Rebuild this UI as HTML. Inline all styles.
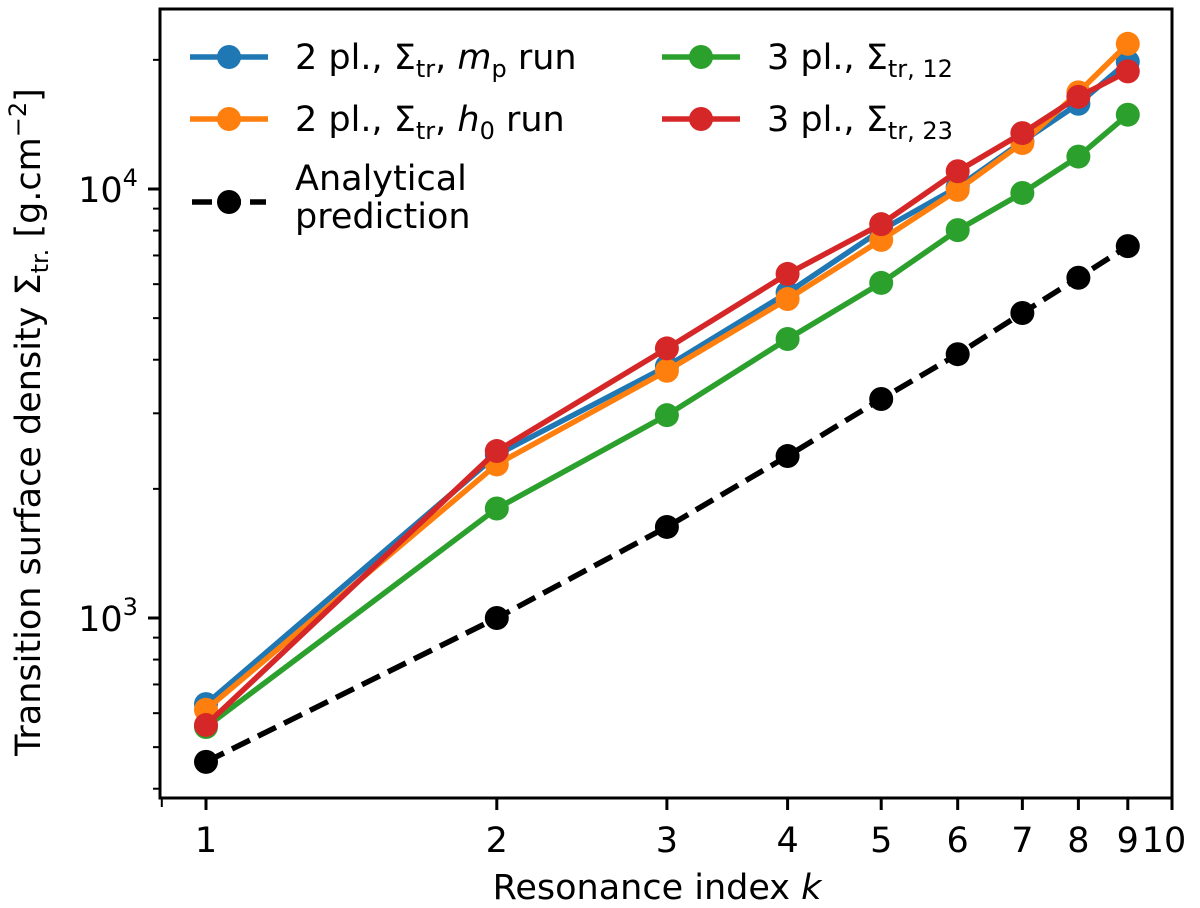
<!DOCTYPE html>
<html><head><meta charset="utf-8"><style>
body{margin:0;background:#fff}
svg{display:block;font-family:"DejaVu Sans","Liberation Sans",sans-serif}
</style></head><body>
<svg id="chart" width="1200" height="908" viewBox="0 0 1200 908">
<g id="marks"></g>
<rect x="160" y="9" width="1012" height="789" fill="none" stroke="#000" stroke-width="3"/>
<g id="ticks"></g>
<text x="657" y="899" font-size="35" text-anchor="middle">Resonance index <tspan font-style="italic">k</tspan></text>
<text transform="translate(40,422) rotate(-90)" font-size="35" text-anchor="middle">Transition surface density Σ<tspan font-size="24" dy="8">tr.</tspan><tspan dy="-8">  [g.cm</tspan><tspan font-size="24" dy="-14">−2</tspan><tspan dy="14">]</tspan></text>
<g id="legend">
 <g><line x1="190" y1="57" x2="268" y2="57" stroke="#1f77b4" stroke-width="5.5"/><circle cx="229" cy="57" r="12" fill="#1f77b4"/><text x="295" y="69" font-size="35">2 pl., Σ<tspan font-size="24" dy="8">tr</tspan><tspan dy="-8">, </tspan><tspan font-style="italic">m</tspan><tspan font-size="24" dy="8">p</tspan><tspan dy="-8"> run</tspan></text></g>
 <g><line x1="190" y1="119" x2="268" y2="119" stroke="#ff7f0e" stroke-width="5.5"/><circle cx="229" cy="119" r="12" fill="#ff7f0e"/><text x="295" y="131" font-size="35">2 pl., Σ<tspan font-size="24" dy="8">tr</tspan><tspan dy="-8">, </tspan><tspan font-style="italic">h</tspan><tspan font-size="24" dy="8">0</tspan><tspan dy="-8"> run</tspan></text></g>
 <g><line x1="192" y1="202" x2="266" y2="202" stroke="#000" stroke-width="5.5" stroke-dasharray="20,9"/><circle cx="229" cy="202" r="12" fill="#000"/><text x="295" y="190" font-size="35">Analytical</text><text x="295" y="228" font-size="35">prediction</text></g>
 <g><line x1="662" y1="57" x2="740" y2="57" stroke="#2ca02c" stroke-width="5.5"/><circle cx="701" cy="57" r="12" fill="#2ca02c"/><text x="767" y="69" font-size="35">3 pl., Σ<tspan font-size="24" dy="8">tr, 12</tspan></text></g>
 <g><line x1="662" y1="119" x2="740" y2="119" stroke="#d62728" stroke-width="5.5"/><circle cx="701" cy="119" r="12" fill="#d62728"/><text x="767" y="131" font-size="35">3 pl., Σ<tspan font-size="24" dy="8">tr, 23</tspan></text></g>
</g>
</svg>
<script>
const ks=[1,2,3,4,5,6,7,8,9];
const blueVals=[630,2400,3860,5730,8020,10100,12900,15800,19800];
const orangeVals=[611,2280,3770,5540,7610,9950,12800,16800,21800];
const greenVals=[557,1800,2970,4470,6040,8020,9790,11900,14900];
const redVals=[563,2450,4250,6340,8280,11000,13500,16400,18800];
const analyticVals=[462,1000,1630,2385,3240,4120,5140,6210,7360];
const xTicks=[1,2,3,4,5,6,7,8,9,10];
const xTickLabels=["1","2","3","4","5","6","7","8","9","10"];
const NS="http://www.w3.org/2000/svg";
function X(v){return 206+966*Math.log10(v);}
function Y(v){return 618-429*(Math.log10(v)-3);}
const marks=document.getElementById('marks');
function series(vals,color,name,dash){
 const g=document.createElementNS(NS,'g');
 
 
 const pl=document.createElementNS(NS,'polyline');
 pl.setAttribute('points',ks.map((k,i)=>X(k)+','+Y(vals[i])).join(' '));
 pl.setAttribute('fill','none');pl.setAttribute('stroke',color);pl.setAttribute('stroke-width','5.5');
 if(dash)pl.setAttribute('stroke-dasharray','20,9');
 
 
 g.appendChild(pl);
 ks.forEach((k,i)=>{
  const c=document.createElementNS(NS,'circle');
  c.setAttribute('cx',X(k));c.setAttribute('cy',Y(vals[i]));c.setAttribute('r','12');c.setAttribute('fill',color);
  
  
  g.appendChild(c);
 });
 marks.appendChild(g);
}
series(analyticVals,'#000','analytical-series',true);
series(blueVals,'#1f77b4','2pl-mp-series');
series(orangeVals,'#ff7f0e','2pl-h0-series');
series(greenVals,'#2ca02c','3pl-12-series');
series(redVals,'#d62728','3pl-23-series');
const tk=document.getElementById('ticks');
function line(x1,y1,x2,y2,w,name){const l=document.createElementNS(NS,'line');l.setAttribute('x1',x1);l.setAttribute('y1',y1);l.setAttribute('x2',x2);l.setAttribute('y2',y2);l.setAttribute('stroke','#000');l.setAttribute('stroke-width',w);
 
 
 tk.appendChild(l);}
function text(x,y,s,name,anchor){const t=document.createElementNS(NS,'text');t.setAttribute('x',x);t.setAttribute('y',y);t.setAttribute('font-size','35');t.setAttribute('text-anchor',anchor||'middle');t.textContent=s;
 
 
 tk.appendChild(t);return t;}
line(X(0.9),798,X(0.9),807,2,'x-minor-tick');
xTicks.forEach((v,i)=>{line(X(v),798,X(v),810,3,'x-tick');text(X(v)-(v===10?8:0),852,xTickLabels[i],'x-tick-label');});
[400,500,600,700,800,900,2000,3000,4000,5000,6000,7000,8000,9000,20000].forEach(v=>line(153,Y(v),160,Y(v),2,'y-minor-tick'));
[1000,10000].forEach(v=>{line(148,Y(v),160,Y(v),3,'y-tick');
 const t=text(108,Y(v)+13,'10','y-tick-label','middle');
 const s=document.createElementNS(NS,'tspan');s.setAttribute('font-size','24');s.setAttribute('dy','-16');s.textContent=v===1000?'3':'4';t.appendChild(s);
});
</script>
</body></html>
